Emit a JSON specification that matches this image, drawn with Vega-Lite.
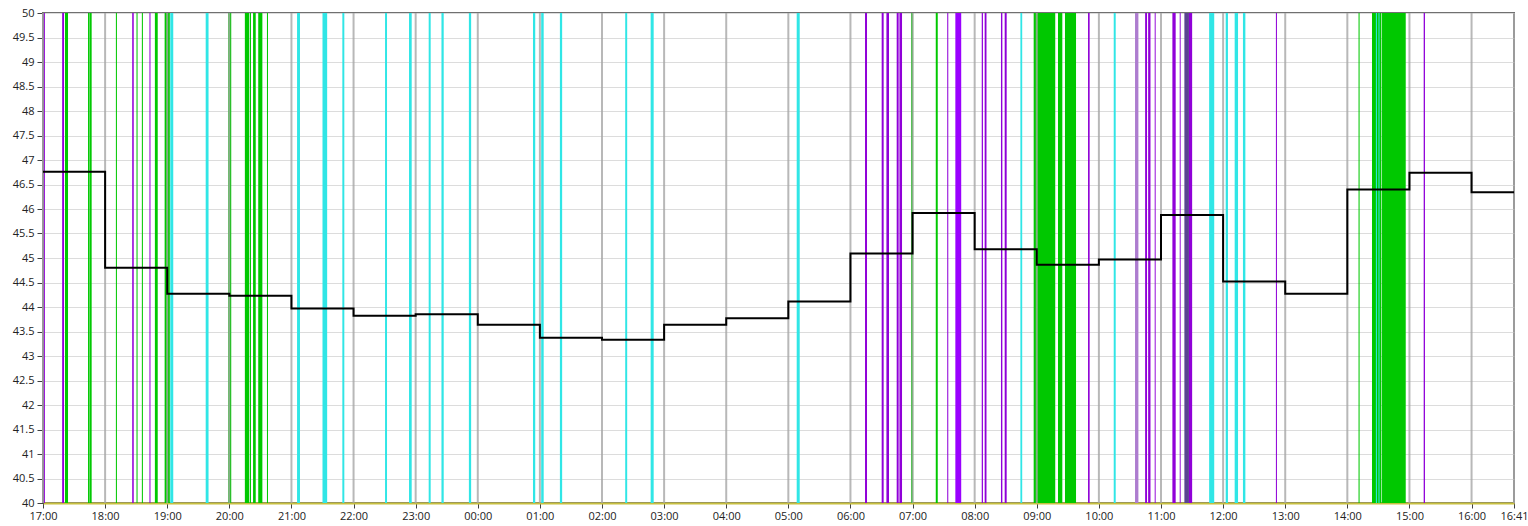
{
  "$schema": "https://vega.github.io/schema/vega-lite/v6.json",
  "width": 1471,
  "height": 490,
  "autosize": {"type": "none"},
  "padding": {"left": 43, "top": 13, "right": 14, "bottom": 23},
  "background": "white",
  "config": {
    "view": {"stroke": "#707070", "strokeWidth": 2},
    "font": "Open Sans",
    "axis": {"labelFont": "Open Sans", "labelFontSize": 11, "labelColor": "#222222", "title": null}
  },
  "datasets": {
    "events": [
      {"start": "2024-01-15T17:00:45", "end": "2024-01-15T17:01:50", "type": "purple"},
      {"start": "2024-01-15T17:18:30", "end": "2024-01-15T17:20:20", "type": "purple"},
      {"start": "2024-01-15T17:21:15", "end": "2024-01-15T17:24:10", "type": "green"},
      {"start": "2024-01-15T17:43:30", "end": "2024-01-15T17:45:05", "type": "green"},
      {"start": "2024-01-15T17:45:25", "end": "2024-01-15T17:47:00", "type": "green"},
      {"start": "2024-01-15T18:10:25", "end": "2024-01-15T18:11:25", "type": "green"},
      {"start": "2024-01-15T18:26:10", "end": "2024-01-15T18:27:40", "type": "purple"},
      {"start": "2024-01-15T18:30:20", "end": "2024-01-15T18:31:20", "type": "green"},
      {"start": "2024-01-15T18:35:30", "end": "2024-01-15T18:36:30", "type": "green"},
      {"start": "2024-01-15T18:42:50", "end": "2024-01-15T18:43:50", "type": "purple"},
      {"start": "2024-01-15T18:48:05", "end": "2024-01-15T18:50:50", "type": "green"},
      {"start": "2024-01-15T18:57:30", "end": "2024-01-15T19:02:30", "type": "green"},
      {"start": "2024-01-15T19:02:55", "end": "2024-01-15T19:05:50", "type": "cyan"},
      {"start": "2024-01-15T19:37:10", "end": "2024-01-15T19:39:55", "type": "cyan"},
      {"start": "2024-01-15T19:58:55", "end": "2024-01-15T20:01:50", "type": "green"},
      {"start": "2024-01-15T20:15:00", "end": "2024-01-15T20:19:00", "type": "green"},
      {"start": "2024-01-15T20:19:40", "end": "2024-01-15T20:20:55", "type": "green"},
      {"start": "2024-01-15T20:22:55", "end": "2024-01-15T20:25:30", "type": "green"},
      {"start": "2024-01-15T20:27:55", "end": "2024-01-15T20:31:55", "type": "green"},
      {"start": "2024-01-15T20:36:20", "end": "2024-01-15T20:37:20", "type": "green"},
      {"start": "2024-01-15T21:05:25", "end": "2024-01-15T21:08:15", "type": "cyan"},
      {"start": "2024-01-15T21:30:00", "end": "2024-01-15T21:34:30", "type": "cyan"},
      {"start": "2024-01-15T21:49:10", "end": "2024-01-15T21:51:05", "type": "cyan"},
      {"start": "2024-01-15T22:30:25", "end": "2024-01-15T22:32:20", "type": "cyan"},
      {"start": "2024-01-15T22:53:35", "end": "2024-01-15T22:56:10", "type": "cyan"},
      {"start": "2024-01-15T23:12:35", "end": "2024-01-15T23:14:30", "type": "cyan"},
      {"start": "2024-01-15T23:24:55", "end": "2024-01-15T23:27:05", "type": "cyan"},
      {"start": "2024-01-15T23:51:25", "end": "2024-01-15T23:53:35", "type": "cyan"},
      {"start": "2024-01-16T00:53:20", "end": "2024-01-16T00:55:30", "type": "cyan"},
      {"start": "2024-01-16T01:01:15", "end": "2024-01-16T01:03:40", "type": "cyan"},
      {"start": "2024-01-16T01:19:20", "end": "2024-01-16T01:21:30", "type": "cyan"},
      {"start": "2024-01-16T02:22:25", "end": "2024-01-16T02:24:20", "type": "cyan"},
      {"start": "2024-01-16T02:47:00", "end": "2024-01-16T02:49:55", "type": "cyan"},
      {"start": "2024-01-16T05:08:05", "end": "2024-01-16T05:11:00", "type": "cyan"},
      {"start": "2024-01-16T06:14:05", "end": "2024-01-16T06:16:00", "type": "purple"},
      {"start": "2024-01-16T06:30:10", "end": "2024-01-16T06:32:05", "type": "purple"},
      {"start": "2024-01-16T06:34:45", "end": "2024-01-16T06:37:15", "type": "purple"},
      {"start": "2024-01-16T06:44:40", "end": "2024-01-16T06:46:35", "type": "purple"},
      {"start": "2024-01-16T06:47:20", "end": "2024-01-16T06:49:50", "type": "purple"},
      {"start": "2024-01-16T06:58:40", "end": "2024-01-16T07:00:35", "type": "green"},
      {"start": "2024-01-16T07:22:25", "end": "2024-01-16T07:24:20", "type": "green"},
      {"start": "2024-01-16T07:33:30", "end": "2024-01-16T07:34:30", "type": "purple"},
      {"start": "2024-01-16T07:41:20", "end": "2024-01-16T07:47:00", "type": "violet"},
      {"start": "2024-01-16T08:06:50", "end": "2024-01-16T08:08:00", "type": "purple"},
      {"start": "2024-01-16T08:09:40", "end": "2024-01-16T08:11:25", "type": "purple"},
      {"start": "2024-01-16T08:25:25", "end": "2024-01-16T08:26:45", "type": "purple"},
      {"start": "2024-01-16T08:29:00", "end": "2024-01-16T08:30:55", "type": "purple"},
      {"start": "2024-01-16T08:44:10", "end": "2024-01-16T08:45:55", "type": "cyan"},
      {"start": "2024-01-16T08:57:00", "end": "2024-01-16T09:17:50", "type": "green"},
      {"start": "2024-01-16T09:20:30", "end": "2024-01-16T09:24:40", "type": "green"},
      {"start": "2024-01-16T09:27:15", "end": "2024-01-16T09:37:55", "type": "green"},
      {"start": "2024-01-16T09:49:30", "end": "2024-01-16T09:51:05", "type": "purple"},
      {"start": "2024-01-16T10:14:20", "end": "2024-01-16T10:16:15", "type": "cyan"},
      {"start": "2024-01-16T10:34:55", "end": "2024-01-16T10:38:10", "type": "lilac"},
      {"start": "2024-01-16T10:44:40", "end": "2024-01-16T10:46:30", "type": "purple"},
      {"start": "2024-01-16T10:47:35", "end": "2024-01-16T10:49:50", "type": "purple"},
      {"start": "2024-01-16T10:53:55", "end": "2024-01-16T10:54:50", "type": "purple"},
      {"start": "2024-01-16T11:11:00", "end": "2024-01-16T11:14:10", "type": "purple"},
      {"start": "2024-01-16T11:18:05", "end": "2024-01-16T11:19:00", "type": "purple"},
      {"start": "2024-01-16T11:22:35", "end": "2024-01-16T11:27:00", "type": "slate"},
      {"start": "2024-01-16T11:27:00", "end": "2024-01-16T11:30:05", "type": "purple"},
      {"start": "2024-01-16T11:46:30", "end": "2024-01-16T11:51:25", "type": "cyan"},
      {"start": "2024-01-16T12:02:30", "end": "2024-01-16T12:04:40", "type": "cyan"},
      {"start": "2024-01-16T12:11:10", "end": "2024-01-16T12:14:25", "type": "cyan"},
      {"start": "2024-01-16T12:19:10", "end": "2024-01-16T12:21:30", "type": "cyan"},
      {"start": "2024-01-16T12:51:00", "end": "2024-01-16T12:52:00", "type": "purple"},
      {"start": "2024-01-16T14:10:50", "end": "2024-01-16T14:11:50", "type": "green"},
      {"start": "2024-01-16T14:23:50", "end": "2024-01-16T14:32:55", "type": "green"},
      {"start": "2024-01-16T14:27:35", "end": "2024-01-16T14:28:35", "type": "cyan"},
      {"start": "2024-01-16T14:30:05", "end": "2024-01-16T14:31:05", "type": "cyan"},
      {"start": "2024-01-16T14:33:30", "end": "2024-01-16T14:56:25", "type": "green"},
      {"start": "2024-01-16T15:13:45", "end": "2024-01-16T15:15:00", "type": "purple"}
    ],
    "level": [
      {"t": "2024-01-15T17:00:00", "value": 46.76},
      {"t": "2024-01-15T18:00:00", "value": 44.80},
      {"t": "2024-01-15T19:00:00", "value": 44.27},
      {"t": "2024-01-15T20:00:00", "value": 44.23},
      {"t": "2024-01-15T21:00:00", "value": 43.97},
      {"t": "2024-01-15T22:00:00", "value": 43.82},
      {"t": "2024-01-15T23:00:00", "value": 43.85},
      {"t": "2024-01-16T00:00:00", "value": 43.64},
      {"t": "2024-01-16T01:00:00", "value": 43.37},
      {"t": "2024-01-16T02:00:00", "value": 43.33},
      {"t": "2024-01-16T03:00:00", "value": 43.64},
      {"t": "2024-01-16T04:00:00", "value": 43.77},
      {"t": "2024-01-16T05:00:00", "value": 44.11},
      {"t": "2024-01-16T06:00:00", "value": 45.09},
      {"t": "2024-01-16T07:00:00", "value": 45.92},
      {"t": "2024-01-16T08:00:00", "value": 45.18},
      {"t": "2024-01-16T09:00:00", "value": 44.86},
      {"t": "2024-01-16T10:00:00", "value": 44.97},
      {"t": "2024-01-16T11:00:00", "value": 45.88},
      {"t": "2024-01-16T12:00:00", "value": 44.52},
      {"t": "2024-01-16T13:00:00", "value": 44.27},
      {"t": "2024-01-16T14:00:00", "value": 46.40},
      {"t": "2024-01-16T15:00:00", "value": 46.74},
      {"t": "2024-01-16T16:00:00", "value": 46.34},
      {"t": "2024-01-16T16:41:00", "value": 46.34}
    ]
  },
  "layer": [
    {
      "data": {"name": "events"},
      "mark": {"type": "rect"},
      "encoding": {
        "x": {
          "field": "start", "type": "temporal",
          "scale": {
            "domain": [
              {"year": 2024, "month": 1, "date": 15, "hours": 17, "minutes": 0},
              {"year": 2024, "month": 1, "date": 16, "hours": 16, "minutes": 41}
            ],
            "nice": false
          },
          "axis": {
            "values": [
              {"year": 2024, "month": 1, "date": 15, "hours": 17},
              {"year": 2024, "month": 1, "date": 15, "hours": 18},
              {"year": 2024, "month": 1, "date": 15, "hours": 19},
              {"year": 2024, "month": 1, "date": 15, "hours": 20},
              {"year": 2024, "month": 1, "date": 15, "hours": 21},
              {"year": 2024, "month": 1, "date": 15, "hours": 22},
              {"year": 2024, "month": 1, "date": 15, "hours": 23},
              {"year": 2024, "month": 1, "date": 16, "hours": 0},
              {"year": 2024, "month": 1, "date": 16, "hours": 1},
              {"year": 2024, "month": 1, "date": 16, "hours": 2},
              {"year": 2024, "month": 1, "date": 16, "hours": 3},
              {"year": 2024, "month": 1, "date": 16, "hours": 4},
              {"year": 2024, "month": 1, "date": 16, "hours": 5},
              {"year": 2024, "month": 1, "date": 16, "hours": 6},
              {"year": 2024, "month": 1, "date": 16, "hours": 7},
              {"year": 2024, "month": 1, "date": 16, "hours": 8},
              {"year": 2024, "month": 1, "date": 16, "hours": 9},
              {"year": 2024, "month": 1, "date": 16, "hours": 10},
              {"year": 2024, "month": 1, "date": 16, "hours": 11},
              {"year": 2024, "month": 1, "date": 16, "hours": 12},
              {"year": 2024, "month": 1, "date": 16, "hours": 13},
              {"year": 2024, "month": 1, "date": 16, "hours": 14},
              {"year": 2024, "month": 1, "date": 16, "hours": 15},
              {"year": 2024, "month": 1, "date": 16, "hours": 16},
              {"year": 2024, "month": 1, "date": 16, "hours": 16, "minutes": 41}
            ],
            "format": "%H:%M",
            "grid": false,
            "domainColor": "#c8c040",
            "domainWidth": 2,
            "tickColor": "#404040",
            "tickSize": 5,
            "labelPadding": 2,
            "labelFlush": false,
            "labelOverlap": false,
            "title": null
          }
        },
        "x2": {"field": "end"},
        "color": {
          "field": "type", "type": "nominal", "legend": null,
          "scale": {
            "domain": ["green", "purple", "violet", "lilac", "cyan", "slate"],
            "range": ["#00c800", "#9000d8", "#9a00ff", "#ad7ccf", "#30e6e6", "#5a4590"]
          }
        }
      }
    },
    {
      "data": {"name": "level"},
      "mark": {"type": "rule", "color": "#a6a6a6", "strokeWidth": 2, "opacity": 0.8},
      "encoding": {
        "x": {"field": "t", "type": "temporal", "title": null}
      }
    },
    {
      "data": {"name": "level"},
      "mark": {"type": "line", "interpolate": "step-after", "color": "#000000", "strokeWidth": 2},
      "encoding": {
        "x": {"field": "t", "type": "temporal", "title": null},
        "y": {
          "field": "value", "type": "quantitative",
          "scale": {"domain": [40, 50], "nice": false, "zero": false},
          "axis": {
            "values": [40, 40.5, 41, 41.5, 42, 42.5, 43, 43.5, 44, 44.5, 45, 45.5, 46, 46.5, 47, 47.5, 48, 48.5, 49, 49.5, 50],
            "format": "~g",
            "grid": true,
            "gridColor": "#dcdcdc",
            "gridWidth": 1,
            "domainColor": "#404040",
            "tickColor": "#404040",
            "tickSize": 6,
            "labelPadding": 3,
            "title": null
          }
        }
      }
    },
    {
      "mark": {"type": "rule", "color": "#f0e050", "strokeWidth": 3},
      "encoding": {
        "x": {"datum": {"year": 2024, "month": 1, "date": 16, "hours": 16, "minutes": 41}, "type": "temporal"}
      }
    }
  ]
}
